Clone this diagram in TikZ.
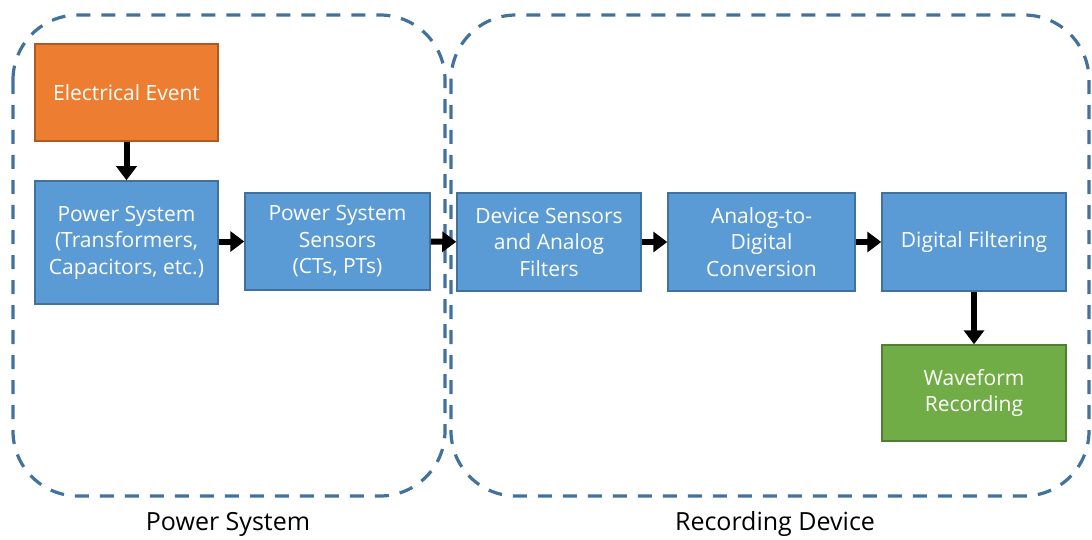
\documentclass[tikz,border=0pt]{standalone}
\usepackage{fontspec}
\setmainfont{Open Sans}
\usepackage{xcolor}
\usetikzlibrary{arrows.meta}

\definecolor{boxblue}{HTML}{5B9BD5}
\definecolor{lineblue}{HTML}{41719C}
\definecolor{boxorange}{HTML}{ED7D31}
\definecolor{lineorange}{HTML}{AE5A21}
\definecolor{boxgreen}{HTML}{70AD47}
\definecolor{linegreen}{HTML}{507E32}

\begin{document}
\begin{tikzpicture}[line cap=butt,line join=miter,x=1pt,y=-1pt,
  >={Triangle[length=14pt,width=20pt]},
  block/.style={draw=lineblue,fill=boxblue,line width=1.5pt,text=white,align=center,
    inner sep=0pt,font=\fontsize{21}{26.5}\selectfont},
  orangeblock/.style={block,draw=lineorange,fill=boxorange},
  greenblock/.style={block,draw=linegreen,fill=boxgreen},
  group/.style={draw=lineblue,line width=3.2pt,dash pattern=on 14pt off 11pt,rounded corners=65pt},
  flow/.style={->,line width=6pt},
  caption/.style={font=\fontsize{25}{28}\selectfont}]
\useasboundingbox (0,0) rectangle (1092,540);
% the two dashed groups
\draw [group] (13,15) rectangle (445,496);
\draw [group] (451,15) rectangle (1089,496);
\node [caption] (lps) at (228,524) {Power System};
\node [caption] (lrd) at (775,524) {Recording Device};
% blocks
\node [orangeblock,minimum width=183pt,minimum height=97pt] (ev) at (126.5,92.5) {Electrical Event};
\node [block,minimum width=183pt,minimum height=123pt] (ps) at (126.5,242.5) {Power System\\(Transformers,\\Capacitors, etc.)};
\node [block,minimum width=185pt,minimum height=97pt] (pss) at (337.5,241.5) {Power System\\Sensors\\(CTs, PTs)};
\node [block,minimum width=184pt,minimum height=98pt] (dsf) at (549,242) {Device Sensors\\and Analog\\Filters};
\node [block,minimum width=187pt,minimum height=98pt] (adc) at (761.5,242) {Analog-to-\\Digital\\Conversion};
\node [block,minimum width=184pt,minimum height=98pt] (df) at (974,242) {Digital Filtering};
\node [greenblock,minimum width=184pt,minimum height=96pt] (wr) at (974,393) {Waveform\\Recording};
% connectors
\draw [flow] (ev) -- (ps);
\draw [flow] (ps.east|-pss) -- (pss);
\draw [flow] (pss) -- (dsf);
\draw [flow] (dsf) -- (adc);
\draw [flow] (adc) -- (df);
\draw [flow] (df) -- (wr);
\end{tikzpicture}
\end{document}
